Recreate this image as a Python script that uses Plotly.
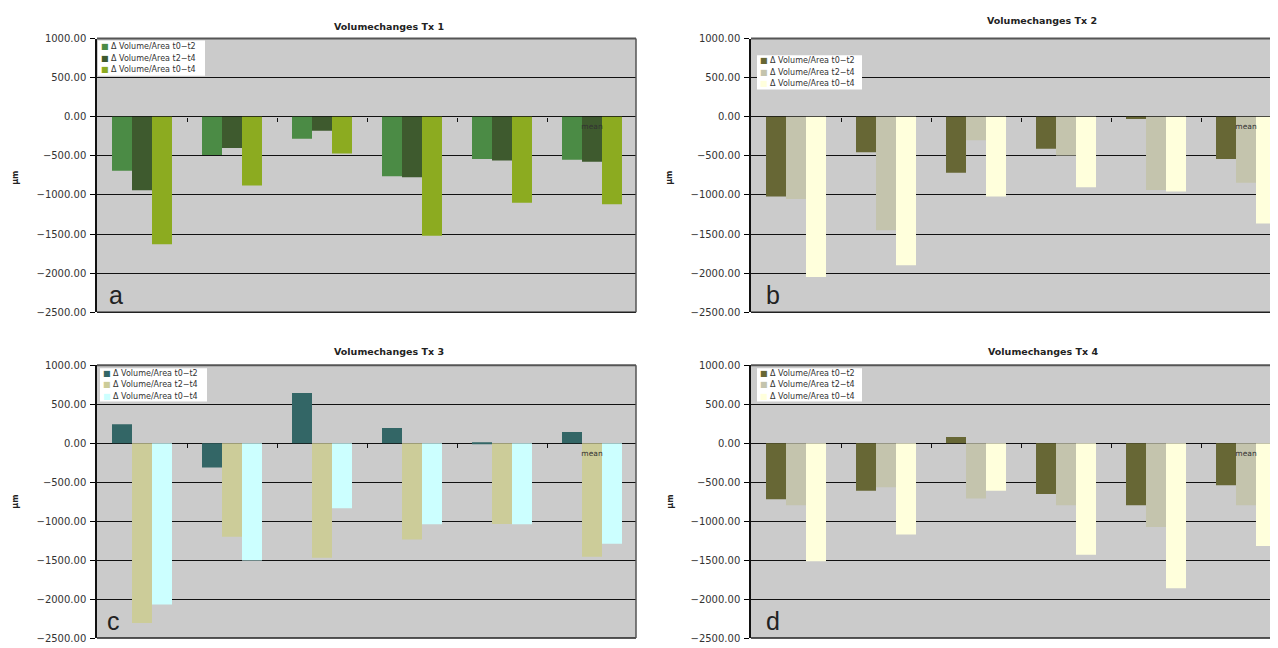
import plotly.graph_objects as go

# ---------------- data ----------------
positions = [0, 1, 2, 3, 4, 5]          # five samples + mean
tick_positions = [5]
tick_labels = ["mean"]
boundary_ticks = [0.5, 1.5, 2.5, 3.5, 4.5]
y_ticks = [1000, 500, 0, -500, -1000, -1500, -2000, -2500]

series_names = ["Δ Volume/Area t0−t2", "Δ Volume/Area t2−t4", "Δ Volume/Area t0−t4"]
panel_titles = ["Volumechanges Tx 1", "Volumechanges Tx 2", "Volumechanges Tx 3", "Volumechanges Tx 4"]
panel_letters = ["a", "b", "c", "d"]

tx1_t0_t2 = [-690, -490, -280, -760, -540, -550]
tx1_t2_t4 = [-940, -400, -180, -775, -560, -575]
tx1_t0_t4 = [-1630, -880, -470, -1520, -1100, -1120]

tx2_t0_t2 = [-1020, -455, -715, -410, -30, -540]
tx2_t2_t4 = [-1050, -1450, -300, -495, -935, -845]
tx2_t0_t4 = [-2050, -1900, -1020, -900, -955, -1365]

tx3_t0_t2 = [245, -310, 645, 195, -5, 145]
tx3_t2_t4 = [-2305, -1200, -1470, -1235, -1035, -1455]
tx3_t0_t4 = [-2070, -1505, -835, -1040, -1040, -1290]

tx4_t0_t2 = [-720, -610, 80, -650, -795, -540]
tx4_t2_t4 = [-795, -565, -710, -795, -1075, -795]
tx4_t0_t4 = [-1515, -1170, -610, -1430, -1860, -1320]

panel_data = [
    [tx1_t0_t2, tx1_t2_t4, tx1_t0_t4],
    [tx2_t0_t2, tx2_t2_t4, tx2_t0_t4],
    [tx3_t0_t2, tx3_t2_t4, tx3_t0_t4],
    [tx4_t0_t2, tx4_t2_t4, tx4_t0_t4],
]
panel_colors = [
    ["#4b8b45", "#3e5a2e", "#8cab20"],
    ["#676735", "#c4c4ad", "#ffffdc"],
    ["#336666", "#cccc99", "#ccffff"],
    ["#676735", "#c4c4ad", "#ffffdc"],
]

# ---------------- layout geometry (page pixels) ----------------
PAGE_W, PAGE_H = 1278, 648
OFF = 8                      # default body margin of the html page
W, H = PAGE_W - OFF, PAGE_H - OFF
Y_MIN, Y_MAX = -2500, 1000
px_x = [(97, 636), (751, 1278), (97, 636), (751, 1278)]
px_y = [(33, 312), (33, 312), (366, 644), (366, 644)]
cat_px = 90.0
title_pos = [(389, 21), (1042, 15), (389, 352), (1043, 352)]
um_pos = [(16, 175), (670, 175), (16, 505), (671, 505)]
legend_box = [(98, 35, 205, 71), (757, 50, 862, 85), (100, 369, 207, 403), (757, 369, 862, 403)]
letter_dx = [10, 13, 8, 13]
has_right = [True, False, True, False]


def fx(p):
    return (p - OFF) / W


def fy(p):
    return 1 - (p - OFF) / H


FONT = "DejaVu Sans"

fig = go.Figure()
shapes = []
annotations = []
layout = {}

for i in range(4):
    sfx = "" if i == 0 else str(i + 1)
    xname, yname = "x" + sfx, "y" + sfx
    x0, x1 = px_x[i]
    ytop, ybot = px_y[i]
    dom_x = [max(0.0, fx(x0)), min(1.0, fx(x1))]
    dom_y = [max(0.0, fy(ybot)), min(1.0, fy(ytop))]
    xr = [-0.5, -0.5 + (x1 - x0) / cat_px]

    for s in range(3):
        fig.add_trace(go.Bar(
            x=positions, y=panel_data[i][s], name=series_names[s],
            marker=dict(color=panel_colors[i][s], line=dict(width=0)),
            xaxis=xname, yaxis=yname, showlegend=False,
        ))

    zero_paper = dom_y[0] + (0 - Y_MIN) / (Y_MAX - Y_MIN) * (dom_y[1] - dom_y[0])
    layout["xaxis" + sfx] = dict(
        domain=dom_x, anchor="free", position=zero_paper, range=xr,
        showgrid=False, zeroline=False, showline=False, ticks="",
        tickvals=tick_positions, ticktext=tick_labels, ticklabelstandoff=4,
        tickfont=dict(family=FONT, size=7.5, color="#333333"),
        minor=dict(tickvals=boundary_ticks, ticks="outside", ticklen=4,
                   tickcolor="#111111", tickwidth=1.2),
        fixedrange=True,
    )
    layout["yaxis" + sfx] = dict(
        domain=dom_y, anchor=xname, range=[Y_MIN, Y_MAX], tickvals=y_ticks,
        tickformat=".2f", ticks="outside", ticklen=5, tickcolor="black", tickwidth=1.2,
        ticklabelstandoff=2,
        showgrid=True, gridcolor="#111111", gridwidth=1.3,
        zeroline=True, zerolinecolor="#111111", zerolinewidth=1.3,
        showline=True, linecolor="#111111", linewidth=1.5,
        tickfont=dict(family=FONT, size=10, color="#333333"), fixedrange=True,
    )

    # frame of the plot area
    xd, yd = xname + " domain", yname + " domain"
    shapes.append(dict(type="line", xref=xd, yref=yd, x0=0, x1=1, y0=1, y1=1,
                       line=dict(color="#555555", width=2), layer="above"))
    shapes.append(dict(type="line", xref=xd, yref=yd, x0=0, x1=1, y0=0, y1=0,
                       line=dict(color="#222222", width=1.5), layer="above"))
    if has_right[i]:
        shapes.append(dict(type="line", xref=xd, yref=yd, x0=1, x1=1, y0=0, y1=1,
                           line=dict(color="#555555", width=1.5), layer="above"))

    # title, unit, letter
    tx, ty = title_pos[i]
    annotations.append(dict(
        text="<b>" + panel_titles[i] + "</b>", x=fx(tx), y=fy(ty), xref="paper", yref="paper",
        xanchor="center", yanchor="middle", showarrow=False,
        font=dict(family=FONT, size=9.5, color="#222222")))
    ux, uy = um_pos[i]
    annotations.append(dict(
        text="<b>µm</b>", x=fx(ux), y=fy(uy), xref="paper", yref="paper",
        xanchor="center", yanchor="middle", showarrow=False, textangle=-90,
        font=dict(family=FONT, size=8, color="#222222")))
    annotations.append(dict(
        text=panel_letters[i], x=fx(x0 + letter_dx[i]), y=dom_y[0], xref="paper", yref="paper",
        xanchor="left", yanchor="bottom", yshift=1, showarrow=False,
        font=dict(family="Liberation Sans", size=25, color="#222222")))

    # legend box
    bx0, by0, bx1, by1 = legend_box[i]
    shapes.append(dict(type="rect", xref="paper", yref="paper",
                       x0=fx(bx0), x1=fx(bx1), y0=fy(by1), y1=fy(by0),
                       fillcolor="white", line=dict(width=0), layer="above"))
    row_h = (by1 - by0) / 3.0
    for s in range(3):
        ry = by0 + row_h * (s + 0.5)
        annotations.append(dict(
            text='<span style="color:%s">■</span> %s' % (panel_colors[i][s], series_names[s]),
            x=fx(bx0 + 1), y=fy(ry), xref="paper", yref="paper",
            xanchor="left", yanchor="middle", showarrow=False,
            font=dict(family=FONT, size=8, color="#333333")))

fig.update_layout(
    width=W, height=H, margin=dict(l=0, r=0, t=0, b=0),
    paper_bgcolor="white", plot_bgcolor="#cbcbcb",
    barmode="group", bargap=1 / 3, bargroupgap=0,
    showlegend=False, shapes=shapes, annotations=annotations,
    **layout,
)

fig.write_html("out.html")
